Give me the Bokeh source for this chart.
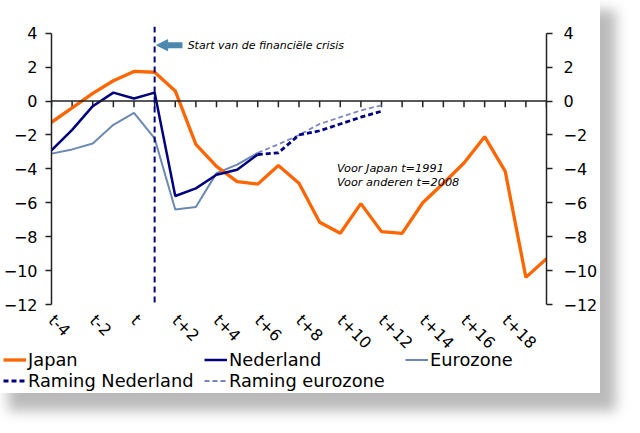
import math
from bokeh.plotting import figure
from bokeh.layouts import column
from bokeh.models import (Range1d, LinearAxis, FixedTicker, Span, Label, Arrow,
                          NormalHead, Legend, LegendItem)
from bokeh.embed import file_html
from bokeh.resources import INLINE

# ---------------- data ----------------
periods = ["t-4", "t-3", "t-2", "t-1", "t", "t+1", "t+2", "t+3", "t+4", "t+5",
           "t+6", "t+7", "t+8", "t+9", "t+10", "t+11", "t+12", "t+13", "t+14",
           "t+15", "t+16", "t+17", "t+18", "t+19", "t+20"]
tick_labels = ["t-4", "t-2", "t", "t+2", "t+4", "t+6", "t+8", "t+10", "t+12",
               "t+14", "t+16", "t+18"]
y_ticks = [-12, -10, -8, -6, -4, -2, 0, 2, 4]

japan = [-1.25, -0.4, 0.45, 1.2, 1.75, 1.7, 0.6, -2.55, -3.85, -4.75, -4.9,
         -3.8, -4.85, -7.15, -7.8, -6.05, -7.7, -7.8, -6.0, -4.85, -3.65,
         -2.1, -4.15, -10.4, -9.3]
nederland = [-2.9, -1.7, -0.3, 0.5, 0.15, 0.5, -5.6, -5.15, -4.35, -4.05, -3.15]
eurozone = [-3.1, -2.85, -2.5, -1.4, -0.7, -2.2, -6.4, -6.25, -4.25, -3.75, -3.05]
forecast_periods = ["t+6", "t+7", "t+8", "t+9", "t+10", "t+11", "t+12"]
raming_nederland = [-3.15, -3.05, -2.0, -1.75, -1.35, -0.95, -0.6]
raming_eurozone = [-3.05, -2.55, -2.0, -1.35, -0.95, -0.55, -0.25]
crisis_position = 5.0  # start of the financial crisis (index units)

# ---------------- positions from data ----------------
xs = list(range(len(periods)))
nl_x = xs[:len(nederland)]
ez_x = xs[:len(eurozone)]
fc_x = [periods.index(p) for p in forecast_periods]
tick_pos = [periods.index(l) for l in tick_labels]

SERIES = {
    "Japan": (xs, japan),
    "Nederland": (nl_x, nederland),
    "Eurozone": (ez_x, eurozone),
    "Raming Nederland": (fc_x, raming_nederland),
    "Raming eurozone": (fc_x, raming_eurozone),
}

FONT = "DejaVu Sans"
ORANGE = "#FF6600"
NAVY = "#000080"
SLATE = "#6A89B5"
LAVENDER = "#7C86C4"
AXIS = "#222222"
Y_MIN, Y_TOP = -12, 4.4
TICK_LEN = 0.36  # length of the category tick marks below the zero line (y units)

STYLES = {
    "Japan": dict(line_color=ORANGE, line_width=3.3),
    "Nederland": dict(line_color=NAVY, line_width=2.5),
    "Eurozone": dict(line_color=SLATE, line_width=2),
    "Raming Nederland": dict(line_color=NAVY, line_width=2.8, line_dash="5 3"),
    "Raming eurozone": dict(line_color=LAVENDER, line_width=1.8, line_dash="5 3"),
}

P_HEIGHT = 363
CARD_HEIGHT = 393
STRIP_TOP = 344
p = figure(width=600, height=P_HEIGHT, output_backend="svg", toolbar_location=None,
           x_range=Range1d(0, len(periods) - 1), y_range=Range1d(Y_MIN, Y_TOP),
           x_axis_location=None, y_axis_location=None,
           min_border_left=46, min_border_right=51, min_border_top=26,
           min_border_bottom=P_HEIGHT - 304)
p.outline_line_color = None
p.xgrid.visible = False
p.ygrid.visible = False
p.background_fill_color = "white"
p.border_fill_color = "white"

def style_y(ax, standoff):
    ax.ticker = FixedTicker(ticks=y_ticks)
    ax.bounds = (-12, 4)
    ax.axis_line_color = AXIS
    ax.axis_line_width = 1.5
    ax.major_tick_line_color = AXIS
    ax.major_tick_line_width = 1.5
    ax.major_tick_out = 6
    ax.major_tick_in = 0
    ax.minor_tick_line_color = None
    ax.major_label_text_font = FONT
    ax.major_label_text_font_size = "16px"
    ax.major_label_text_color = "black"
    ax.major_label_standoff = standoff

yl = LinearAxis()
style_y(yl, 8)
p.add_layout(yl, "left")
yr = LinearAxis()
style_y(yr, 11)
p.add_layout(yr, "right")

# zero line with category tick marks
p.add_layout(Span(location=0, dimension="width", line_color=AXIS, line_width=1.5))
p.segment(x0=xs, y0=[0] * len(xs), x1=xs, y1=[-TICK_LEN] * len(xs),
          line_color=AXIS, line_width=1.5)

# category label axis
xl = LinearAxis(ticker=FixedTicker(ticks=tick_pos),
                major_label_overrides={pos: lab for pos, lab in zip(tick_pos, tick_labels)})
xl.axis_line_color = None
xl.major_tick_line_color = None
xl.major_tick_out = 0
xl.major_tick_in = 0
xl.minor_tick_line_color = None
xl.major_label_orientation = -math.pi / 4
xl.major_label_text_font = FONT
xl.major_label_text_font_size = "16px"
xl.major_label_text_color = "black"
xl.major_label_standoff = 13
p.add_layout(xl, "below")

# crisis line
p.add_layout(Span(location=crisis_position, dimension="height", line_color=NAVY,
                  line_width=2, line_dash="6 4"))

for name in ["Eurozone", "Japan", "Nederland", "Raming eurozone", "Raming Nederland"]:
    sx, sy = SERIES[name]
    p.line(sx, sy, **STYLES[name])

# arrow + annotation
p.add_layout(Arrow(end=NormalHead(size=11, fill_color="#4A89AD", line_color="#4A89AD"),
                   x_start=6.35, y_start=3.3, x_end=5.1, y_end=3.3,
                   line_color="#4A89AD", line_width=6))
p.add_layout(Label(x=6.6, y=3.25, text="Start van de financiële crisis",
                   text_font=FONT, text_font_size="11px", text_font_style="italic",
                   text_baseline="middle", text_color="black"))
p.add_layout(Label(x=13.84, y=-3.95, text="Voor Japan t=1991",
                   text_font=FONT, text_font_size="11.3px", text_font_style="italic",
                   text_baseline="middle", text_color="black"))
p.add_layout(Label(x=13.84, y=-4.82, text="Voor anderen t=2008",
                   text_font=FONT, text_font_size="11.3px", text_font_style="italic",
                   text_baseline="middle", text_color="black"))

# unit labels
p.add_layout(Label(x=-7, y=294, x_units="screen", y_units="screen", text="% van BBP",
                   text_font=FONT, text_font_size="13px", text_baseline="middle",
                   text_color="black"))
p.add_layout(Label(x=499, y=294, x_units="screen", y_units="screen", text="% van BBP",
                   text_font=FONT, text_font_size="13px", text_baseline="middle",
                   text_align="right", text_color="black"))

# ---------------- legend strip (transparent, overlapping the bottom of p) ----------------
p2 = figure(width=600, height=CARD_HEIGHT - STRIP_TOP, output_backend="svg",
            toolbar_location=None,
            x_range=Range1d(0, 25), y_range=Range1d(-12, 4.4),
            x_axis_location=None, y_axis_location=None, min_border=0)
p2.outline_line_color = None
p2.xgrid.visible = False
p2.ygrid.visible = False
p2.background_fill_color = None
p2.border_fill_color = None
p2.margin = (STRIP_TOP - P_HEIGHT, 0, 0, 0)
for fig in (p, p2):
    try:
        fig.frame_align = False
    except Exception:
        pass

legend_slots = {"Japan": (3, 23), "Nederland": (204, 23), "Eurozone": (405, 23),
                "Raming Nederland": (3, 2), "Raming eurozone": (204, 2)}
for name in ["Japan", "Nederland", "Eurozone", "Raming Nederland", "Raming eurozone"]:
    sx, sy = SERIES[name]
    r = p2.line(sx, sy, visible=False, **STYLES[name])
    lg = Legend(items=[LegendItem(label=name, renderers=[r])],
                location=legend_slots[name])
    lg.padding = 0
    lg.margin = 0
    lg.spacing = 0
    lg.border_line_color = None
    lg.background_fill_color = None
    lg.glyph_width = 23
    lg.glyph_height = 21
    lg.label_height = 21
    lg.label_standoff = 2
    lg.label_text_font = FONT
    lg.label_text_font_size = "17.8px"
    lg.label_text_color = "black"
    p2.add_layout(lg, "center")

layout = column(p, p2, spacing=0)
layout.styles = {"box-shadow": "12px 14px 12px 4px rgba(0,0,0,0.27)",
                 "background-color": "white"}

open("out.html", "w").write(file_html(layout, INLINE))
